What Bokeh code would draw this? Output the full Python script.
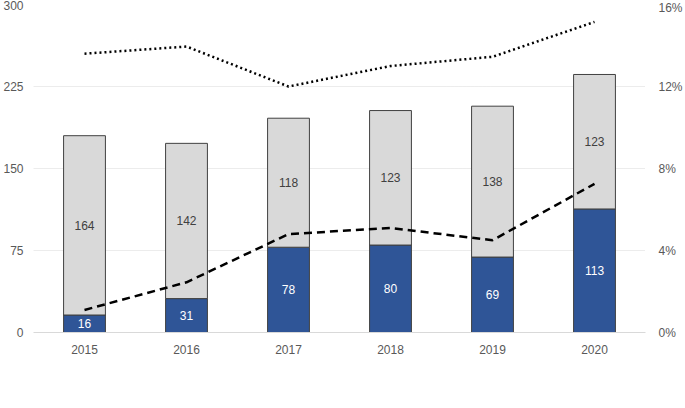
from bokeh.plotting import figure
from bokeh.models import (ColumnDataSource, Range1d, LinearAxis, FixedTicker,
                          PrintfTickFormatter, Legend, LegendItem, LabelSet)
from bokeh.core.properties import value
from bokeh.embed import file_html
from bokeh.resources import INLINE

years = ["2015", "2016", "2017", "2018", "2019", "2020"]
discretionary = [16, 31, 78, 80, 69, 113]
other_supp = [164, 142, 118, 123, 138, 123]
total_supp_pct = [13.6, 13.95, 12.0, 13.0, 13.45, 15.15]
discr_pct = [1.1, 2.45, 4.8, 5.1, 4.5, 7.25]
left_ticks = [0, 75, 150, 225, 300]
right_ticks = [0, 4, 8, 12, 16]

FONT = "Liberation Sans"
BLUE = "#2F5597"
GRAY = "#D9D9D9"
EDGE = "#404040"

src = ColumnDataSource(dict(
    year=years, disc=discretionary, other=other_supp,
    disc_mid=[d / 2 for d in discretionary],
    other_mid=[d + o / 2 for d, o in zip(discretionary, other_supp)],
    disc_lbl=[str(v) for v in discretionary],
    other_lbl=[str(v) for v in other_supp],
    tpct=total_supp_pct, dpct=discr_pct,
))

p = figure(x_range=years, y_range=Range1d(0, 300),
           frame_width=612, frame_height=328,
           output_backend="svg", toolbar_location=None,
           min_border_left=24, min_border_right=31, min_border_top=4,
           min_border_bottom=0)
p.outline_line_color = None
p.background_fill_color = "white"
p.border_fill_color = "white"

p.extra_y_ranges = {"pct": Range1d(0, 16)}

bars = p.vbar_stack(["disc", "other"], x="year", width=0.41, source=src,
                    fill_color=[BLUE, GRAY], line_color=EDGE, line_width=1)

l1 = p.line(x="year", y="tpct", source=src, y_range_name="pct",
            line_color="black", line_width=2.5, line_dash="2 3")
l2 = p.line(x="year", y="dpct", source=src, y_range_name="pct",
            line_color="black", line_width=2.5, line_dash="8 5")

lab1 = LabelSet(x="year", y="disc_mid", text="disc_lbl", source=src,
                text_align="center", text_baseline="middle",
                text_color="white", text_font=value(FONT),
                text_font_size="12px")
lab2 = LabelSet(x="year", y="other_mid", text="other_lbl", source=src,
                text_align="center", text_baseline="middle",
                text_color="#404040", text_font=value(FONT),
                text_font_size="12px")
p.add_layout(lab1)
p.add_layout(lab2)

# axes
p.yaxis.ticker = FixedTicker(ticks=left_ticks)
lax = p.yaxis[0]
lax.axis_line_color = None
lax.major_tick_line_color = None
lax.minor_tick_line_color = None
lax.major_label_text_font = FONT
lax.major_label_text_font_size = "12px"
lax.major_label_text_color = "#595959"
lax.major_label_standoff = 4

rax = LinearAxis(y_range_name="pct", ticker=FixedTicker(ticks=right_ticks),
                 formatter=PrintfTickFormatter(format="%d%%"))
rax.axis_line_color = None
rax.major_tick_line_color = None
rax.minor_tick_line_color = None
rax.major_label_text_font = FONT
rax.major_label_text_font_size = "12px"
rax.major_label_text_color = "#595959"
rax.major_label_standoff = 7
p.add_layout(rax, "right")

p.xaxis.axis_line_color = "#D9D9D9"
p.xaxis.axis_line_width = 1
p.xaxis.major_tick_line_color = None
p.xaxis.minor_tick_line_color = None
p.xaxis.major_label_text_font = FONT
p.xaxis.major_label_text_font_size = "12px"
p.xaxis.major_label_text_color = "#595959"
p.xaxis.major_label_standoff = 6

p.xgrid.grid_line_color = None
p.ygrid.grid_line_color = "#D9D9D9"
p.ygrid.grid_line_dash = "1 1"
p.ygrid.ticker = FixedTicker(ticks=left_ticks)


def make_legend(items):
    lg = Legend(items=items, orientation="horizontal", location="center")
    lg.label_text_font = FONT
    lg.label_text_font_size = "14px"
    lg.label_text_color = "#262626"
    lg.border_line_color = None
    lg.background_fill_alpha = 0
    lg.glyph_width = 27
    lg.glyph_height = 9
    lg.label_height = 16
    lg.label_width = 245
    lg.label_standoff = 2
    lg.spacing = 0
    lg.padding = 0
    lg.margin = 0
    return lg


leg1 = make_legend([
    LegendItem(label="Discretionary", renderers=[bars[0]]),
    LegendItem(label="Other supplementary", renderers=[bars[1]]),
])
leg2 = make_legend([
    LegendItem(label="Total supplementary / total grants (%)", renderers=[l1]),
    LegendItem(label="Discretionary / total grants (%)", renderers=[l2]),
])
p.add_layout(leg1, "below")
p.add_layout(leg2, "below")

open("out.html", "w").write(file_html(p, INLINE))
